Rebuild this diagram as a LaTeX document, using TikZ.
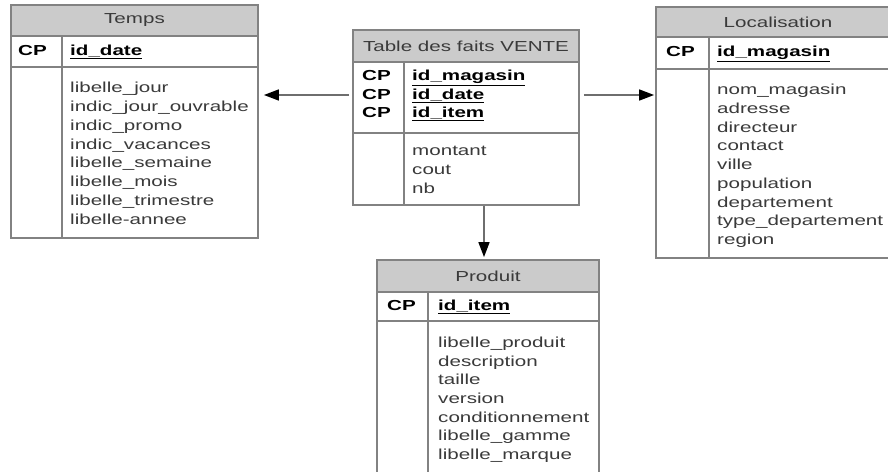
\documentclass[tikz,border=0pt]{standalone}
\usepackage{fontspec}
\setmainfont[FakeStretch=1.42]{Liberation Sans}
\usetikzlibrary{arrows.meta}

\definecolor{edgegray}{HTML}{828282}
\definecolor{headgray}{HTML}{CBCBCB}
\definecolor{textgray}{HTML}{3A3A3A}
\definecolor{linkgray}{HTML}{6E6E6E}

\newcommand\tblfont{\fontsize{14.5}{17}\selectfont}

\tikzset{
  tbl/.style={draw=edgegray, line width=1.8pt, fill=white, inner sep=0pt},
  hdr/.style={draw=edgegray, line width=1.8pt, fill=headgray, inner sep=0pt,
              font=\tblfont, text=textgray},
  rule/.style={draw=edgegray, line width=1.8pt},
  attr/.style={anchor=west, inner sep=0pt, text height=10pt, text depth=3pt,
               font=\tblfont, text=textgray},
  key/.style={attr, font=\tblfont\bfseries, text=black},
  link/.style={draw=linkgray, line width=1.6pt,
               -{Triangle[length=15pt,width=11pt,color=black]}}
}

\begin{document}
\begin{tikzpicture}[x=1pt,y=-1pt]
\useasboundingbox (0,0) rectangle (888,471);
\clip (0,0) rectangle (888,471);

% ---------------- Temps ----------------
\node[tbl, minimum width=247, minimum height=233] (temps) at (134.5,121.5) {};
\node[hdr, minimum width=247, minimum height=31] (temps-h) at (134.5,20.5) {Temps};
\draw[rule] (11,67) -- (258,67);
\draw[rule] (62,36) -- (62,238);
\node[key] (temps-cp) at (18,52) {CP};
\node[key] (temps-k1) at (70,52) {\underline{id\_date}};
\foreach \t [count=\i from 0] in {libelle\_jour, indic\_jour\_ouvrable, indic\_promo,
    indic\_vacances, libelle\_semaine, libelle\_mois, libelle\_trimestre, libelle-annee}
  \node[attr] (temps-a\i) at (70,89+18.86*\i) {\t};

% ---------------- Table des faits VENTE ----------------
\node[tbl, minimum width=226, minimum height=175] (fact) at (466,117.5) {};
\node[hdr, minimum width=226, minimum height=32] (fact-h) at (466,46) {Table des faits VENTE};
\draw[rule] (353,133) -- (579,133);
\draw[rule] (404,62) -- (404,205);
\foreach \t [count=\i from 0] in {id\_magasin, id\_date, id\_item} {
  \node[key] (fact-cp\i) at (362,77+18.5*\i) {CP};
  \node[key] (fact-k\i) at (412,77+18.5*\i) {\underline{\t}};
}
\foreach \t [count=\i from 0] in {montant, cout, nb}
  \node[attr] (fact-a\i) at (412,152+19*\i) {\t};

% ---------------- Localisation ----------------
\node[tbl, minimum width=244, minimum height=251] (loc) at (778,132.5) {};
\node[hdr, minimum width=244, minimum height=30] (loc-h) at (778,22) {Localisation};
\draw[rule] (656,69) -- (900,69);
\draw[rule] (709,37) -- (709,258);
\node[key] (loc-cp) at (666,53) {CP};
\node[key] (loc-k1) at (717,53) {\underline{id\_magasin}};
\foreach \t [count=\i from 0] in {nom\_magasin, adresse, directeur, contact, ville,
    population, departement, type\_departement, region}
  \node[attr] (loc-a\i) at (717,91+18.75*\i) {\t};

% ---------------- Produit ----------------
\node[tbl, minimum width=222, minimum height=230] (prod) at (488,375) {};
\node[hdr, minimum width=222, minimum height=32] (prod-h) at (488,276) {Produit};
\draw[rule] (377,321) -- (599,321);
\draw[rule] (428,292) -- (428,490);
\node[key] (prod-cp) at (387,307) {CP};
\node[key] (prod-k1) at (438,307) {\underline{id\_item}};
\foreach \t [count=\i from 0] in {libelle\_produit, description, taille, version,
    conditionnement, libelle\_gamme, libelle\_marque}
  \node[attr] (prod-a\i) at (438,344+18.67*\i) {\t};

% ---------------- links ----------------
\coordinate (lvl) at (0,95);
\coordinate (col) at (484,0);
\draw[link, shorten <=3pt, shorten >=5pt] (fact.west |- lvl) -- (temps.east |- lvl);
\draw[link, shorten <=4pt, shorten >=1pt] (fact.east |- lvl) -- (loc.west |- lvl);
\draw[link, shorten >=2pt] (fact.south -| col) -- (prod.north -| col);
\end{tikzpicture}
\end{document}
